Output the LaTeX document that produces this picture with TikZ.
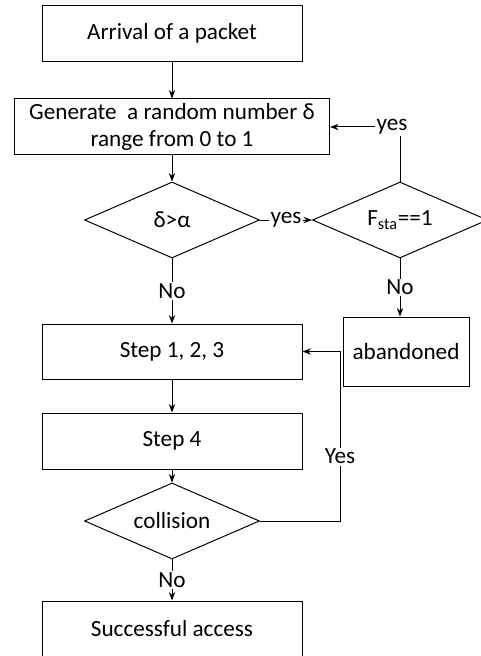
\documentclass[tikz,border=0pt]{standalone}
\usepackage{fontspec}
\setmainfont{Carlito}
\usepackage{tikz}
\usetikzlibrary{arrows.meta,positioning,shapes.geometric}
\begin{document}
\begin{tikzpicture}[font=\fontsize{16.5}{19}\selectfont,>={Stealth[length=6pt,width=4.5pt]},
  line width=0.7pt,
  procbox/.style={draw,rectangle,minimum width=6.5cm,minimum height=1.4cm,align=center,inner sep=1pt},
  decide/.style={draw,diamond,minimum width=4.375cm,minimum height=1.9cm,aspect=2.3,inner sep=0pt},
  lbl/.style={fill=white,inner sep=1pt}]
\useasboundingbox (0,0) rectangle (12,16.4);
\def\cx{4.3}
% --- main column ---
\node[procbox] (arrive) at (\cx,15.5625) {Arrival of a packet};
\node[procbox,minimum width=7.88cm] (gen) at (\cx,13.225) {Generate\ \ a random number δ\\range from 0 to 1};
\node[decide] (dalpha) at (\cx,10.9) {δ>α};
\node[procbox,minimum height=1.375cm] (step123) at (\cx,7.6125) {Step 1, 2, 3};
\node[procbox] (step4) at (\cx,5.375) {Step 4};
\node[decide] (coll) at (\cx,3.375) {collision};
\node[procbox,minimum height=1.375cm] (success) at (\cx,0.6875) {Successful access};
% --- right branch ---
\node[decide] (fsta) at (10.0,10.9) {F\textsubscript{sta}==1};
\node[procbox,minimum width=3.15cm,minimum height=1.725cm] (aband) at (10.15,7.6125) {abandoned};
\coordinate (yesturn) at (8.5,3.375);
% --- connectors ---
\draw[->] (arrive) -- (gen);
\draw[->] (gen) -- (dalpha);
\draw[->] (dalpha) -- node[lbl]{No} (step123);
\draw[->] (step123) -- (step4);
\draw[->] (step4) -- (coll);
\draw[->] (coll) -- node[lbl]{No} (success);
\draw[->] (dalpha.east) -- node[lbl]{yes} (fsta.west);
\draw[->] (fsta.north) |- node[lbl,xshift=-0.2cm]{yes} (gen.east);
\draw[->] (fsta.south) -- node[lbl]{No} (fsta.south |- aband.north);
\draw[->] (coll.east) -- (yesturn) -- node[lbl,pos=0.38]{Yes} (yesturn |- step123.east) -- (step123.east);
\end{tikzpicture}
\end{document}
